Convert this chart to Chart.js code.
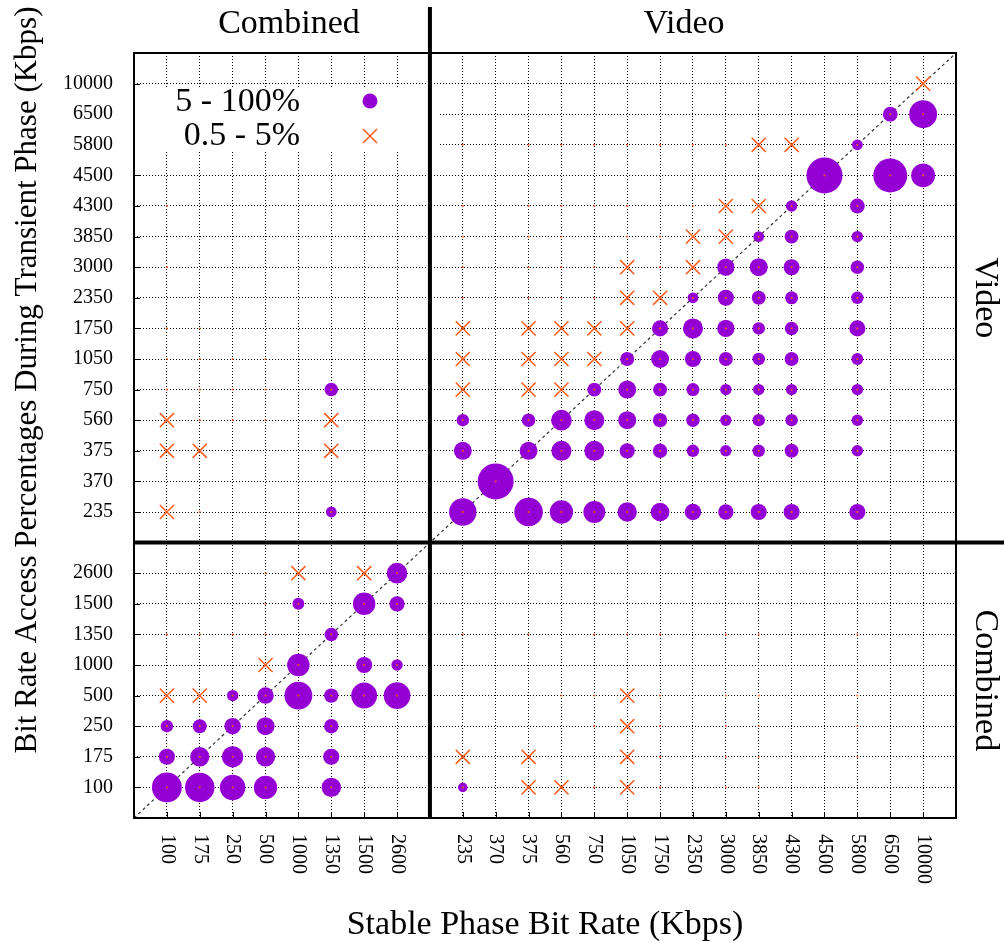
<!DOCTYPE html>
<html>
<head>
<meta charset="utf-8">
<script src="https://cdn.jsdelivr.net/npm/chart.js@4.4.0/dist/chart.umd.min.js"></script>
<style>
  html, body { margin: 0; padding: 0; background: #fff; }
  #wrap { width: 1004px; height: 943px; }
</style>
</head>
<body>
<div id="wrap"><canvas id="chart" width="1004" height="943"></canvas></div>
<script>
// Bit rate ladders (Kbps)
const combinedRates = [100, 175, 250, 500, 1000, 1350, 1500, 2600];
const videoRates = [235, 370, 375, 560, 750, 1050, 1750, 2350, 3000, 3850, 4300, 4500, 5800, 6500, 10000];

// [stable rate, transient rate, percent] with a share of 5 - 100%
const highShare = [
  // video / video
  [235, 235, 58], [375, 235, 63], [560, 235, 42], [750, 235, 37], [1050, 235, 29], [1750, 235, 27],
  [2350, 235, 21], [3000, 235, 18], [3850, 235, 20], [4300, 235, 20], [5800, 235, 20],
  [370, 370, 100],
  [235, 375, 25], [375, 375, 25], [560, 375, 31], [750, 375, 31], [1050, 375, 18], [1750, 375, 16],
  [2350, 375, 12], [3000, 375, 10], [3850, 375, 12], [4300, 375, 15], [5800, 375, 10],
  [235, 560, 12], [375, 560, 14], [560, 560, 33], [750, 560, 31], [1050, 560, 25], [1750, 560, 16],
  [2350, 560, 14], [3000, 560, 10], [3850, 560, 12], [4300, 560, 12], [5800, 560, 10],
  [750, 750, 15], [1050, 750, 25], [1750, 750, 15], [2350, 750, 13], [3000, 750, 10],
  [3850, 750, 10], [4300, 750, 10], [5800, 750, 10],
  [1050, 1050, 15], [1750, 1050, 25], [2350, 1050, 20], [3000, 1050, 15], [3850, 1050, 12],
  [4300, 1050, 15], [5800, 1050, 11],
  [1750, 1750, 20], [2350, 1750, 31], [3000, 1750, 23], [3850, 1750, 12], [4300, 1750, 14], [5800, 1750, 20],
  [2350, 2350, 9], [3000, 2350, 20], [3850, 2350, 15], [4300, 2350, 13], [5800, 2350, 12],
  [3000, 3000, 23], [3850, 3000, 25], [4300, 3000, 20], [5800, 3000, 14],
  [3850, 3850, 9], [4300, 3850, 15], [5800, 3850, 10],
  [4300, 4300, 10], [5800, 4300, 17],
  [4500, 4500, 100], [6500, 4500, 89], [10000, 4500, 44],
  [5800, 5800, 9],
  [6500, 6500, 17], [10000, 6500, 60],
  // combined / video
  [1350, 750, 14], [1350, 235, 9],
  // combined / combined
  [2600, 2600, 33],
  [1000, 1500, 11], [1500, 1500, 39], [2600, 1500, 18],
  [1350, 1350, 14],
  [1000, 1000, 39], [1500, 1000, 20], [2600, 1000, 10],
  [250, 500, 10], [500, 500, 21], [1000, 500, 60], [1350, 500, 16], [1500, 500, 52], [2600, 500, 55],
  [100, 250, 12], [175, 250, 15], [250, 250, 21], [500, 250, 25], [1350, 250, 16],
  [100, 175, 20], [175, 175, 29], [250, 175, 35], [500, 175, 29], [1350, 175, 20],
  [100, 100, 69], [175, 100, 67], [250, 100, 50], [500, 100, 42], [1350, 100, 29],
  // video / combined
  [235, 100, 7]
];

// [stable rate, transient rate] with a share of 0.5 - 5%
const midShare = [
  [10000, 10000], [3850, 5800], [4300, 5800], [3000, 4300], [3850, 4300], [2350, 3850], [3000, 3850],
  [1050, 3000], [2350, 3000], [1050, 2350], [1750, 2350],
  [235, 1750], [375, 1750], [560, 1750], [750, 1750], [1050, 1750],
  [235, 1050], [375, 1050], [560, 1050], [750, 1050],
  [235, 750], [375, 750], [560, 750],
  [100, 560], [1350, 560], [100, 375], [175, 375], [1350, 375], [100, 235],
  [1000, 2600], [1500, 2600], [500, 1000], [100, 500], [175, 500],
  [235, 175], [375, 175], [1050, 175], [375, 100], [560, 100], [1050, 100], [1050, 250], [1050, 500]
];

// [stable rate, transient rate] with a share below 0.5%
const lowShare = [
  [100, 4300], [100, 3000], [100, 1750], [175, 1750], [100, 1050], [175, 1050], [250, 1050], [500, 1050],
  [100, 750], [175, 750], [250, 750], [500, 750], [175, 560], [250, 560], [500, 560], [175, 235],
  [235, 5800], [375, 5800], [560, 5800], [750, 5800], [1050, 5800], [1750, 5800], [2350, 5800], [3000, 5800],
  [235, 4300], [375, 4300], [560, 4300], [750, 4300], [1050, 4300], [2350, 4300],
  [235, 3850], [375, 3850], [560, 3850], [1050, 3850], [1750, 3850],
  [235, 3000], [375, 3000], [560, 3000], [750, 3000], [1750, 3000],
  [235, 2350], [375, 2350], [560, 2350], [750, 2350],
  [500, 2600], [500, 1500], [100, 1350], [175, 1350], [250, 1350], [500, 1350],
  [235, 1350], [375, 1350], [750, 1350], [1050, 1350], [1750, 1350], [3000, 1350], [3850, 1350], [5800, 1350],
  [560, 500], [750, 500], [1750, 500], [3000, 500], [3850, 500], [5800, 500],
  [750, 250], [1750, 250], [3000, 250], [3850, 250], [5800, 250],
  [1750, 175], [3000, 175], [3850, 175], [5800, 175],
  [750, 100], [1750, 100], [3000, 100], [3850, 100]
];

// combined ladder, an empty slot, then the video ladder
const axisLabels = [...combinedRates, '', ...videoRates];
const splitAt = combinedRates.length;
const pos = rate => axisLabels.indexOf(rate);

const PURPLE = '#9400d3';
const ORANGE = '#ff5a1a';
const SERIF = "'Liberation Serif', 'Times New Roman', serif";

const shareRadius = pct => 1.8 * Math.sqrt(pct);
const isCategory = v => Number.isInteger(v) && v >= 0 && v < axisLabels.length && v !== splitAt;

const toPoint = ([sx, ty, pct]) => ({ x: pos(sx), y: pos(ty), pct });

const gridAxis = {
  type: 'linear',
  min: -1,
  max: axisLabels.length,
  ticks: { display: false, stepSize: 1, maxTicksLimit: 100 },
  grid: {
    drawTicks: false,
    lineWidth: 1,
    color: c => (c.tick && isCategory(c.tick.value)) ? '#000' : 'rgba(0,0,0,0)'
  },
  border: { display: false, dash: [1, 2] }
};

const decorations = {
  id: 'decorations',
  afterDatasetsDraw(chart) {
    const { ctx, chartArea: a, scales: { x, y } } = chart;
    ctx.save();

    // short inward tics on the left and bottom edges
    ctx.strokeStyle = '#000';
    ctx.lineWidth = 1;
    ctx.beginPath();
    axisLabels.forEach((lab, i) => {
      if (lab === '') return;
      const py = Math.round(y.getPixelForValue(i)) + 0.5;
      const px = Math.round(x.getPixelForValue(i)) + 0.5;
      ctx.moveTo(a.left, py); ctx.lineTo(a.left + 6, py);
      ctx.moveTo(px, a.bottom); ctx.lineTo(px, a.bottom - 6);
    });
    ctx.stroke();

    // key
    ctx.fillStyle = '#fff';
    ctx.fillRect(a.left + 1, 87, 303, 65);
    ctx.fillStyle = '#000';
    ctx.font = `34px ${SERIF}`;
    ctx.textAlign = 'right';
    ctx.textBaseline = 'middle';
    ctx.fillText('5 - 100%', 300, 102);
    ctx.fillText('0.5 - 5%', 300, 136);
    ctx.fillStyle = PURPLE;
    ctx.beginPath();
    ctx.arc(370, 101, 7.5, 0, Math.PI * 2);
    ctx.fill();
    ctx.strokeStyle = ORANGE;
    ctx.lineWidth = 1.5;
    ctx.beginPath();
    ctx.moveTo(363, 129); ctx.lineTo(377, 143);
    ctx.moveTo(377, 129); ctx.lineTo(363, 143);
    ctx.stroke();

    // tick labels
    ctx.fillStyle = '#000';
    ctx.font = `20px ${SERIF}`;
    axisLabels.forEach((lab, i) => {
      if (lab === '') return;
      ctx.textAlign = 'right';
      ctx.textBaseline = 'middle';
      ctx.fillText(String(lab), a.left - 21, y.getPixelForValue(i));
      ctx.save();
      ctx.translate(x.getPixelForValue(i), a.bottom + 16);
      ctx.rotate(Math.PI / 2);
      ctx.textAlign = 'left';
      ctx.fillText(String(lab), 0, 0);
      ctx.restore();
    });

    // plot frame and panel separators
    ctx.strokeStyle = '#000';
    ctx.lineWidth = 2;
    ctx.strokeRect(a.left, a.top, a.right - a.left, a.bottom - a.top);
    const sx = x.getPixelForValue(splitAt);
    const sy = y.getPixelForValue(splitAt);
    ctx.lineWidth = 4;
    ctx.beginPath();
    ctx.moveTo(sx, 7); ctx.lineTo(sx, a.bottom);
    ctx.moveTo(a.left, sy); ctx.lineTo(chart.width, sy);
    ctx.stroke();

    // panel names and axis titles
    ctx.font = `34px ${SERIF}`;
    ctx.textAlign = 'center';
    ctx.textBaseline = 'middle';
    ctx.fillText('Combined', 289, 24);
    ctx.fillText('Video', 684, 24);
    ctx.fillText('Stable Phase Bit Rate (Kbps)', (a.left + a.right) / 2, 925);
    const side = (text, cx, cy, ang) => {
      ctx.save();
      ctx.translate(cx, cy);
      ctx.rotate(ang);
      ctx.fillText(text, 0, 0);
      ctx.restore();
    };
    side('Video', 985, (a.top + sy) / 2, Math.PI / 2);
    side('Combined', 985, (sy + a.bottom) / 2, Math.PI / 2);
    ctx.font = `31px ${SERIF}`;
    side('Bit Rate Access Percentages During Transient Phase (Kbps)', 28, 380, -Math.PI / 2);

    ctx.restore();
  }
};

const allPositions = [...highShare, ...midShare, ...lowShare].map(toPoint);

new Chart(document.getElementById('chart'), {
  type: 'scatter',
  data: {
    datasets: [
      {
        label: 'center',
        data: allPositions,
        order: 0,
        pointStyle: 'rect',
        pointRadius: 1.2,
        backgroundColor: ORANGE,
        borderWidth: 0
      },
      {
        label: '0.5 - 5%',
        data: midShare.map(toPoint),
        order: 1,
        pointStyle: 'crossRot',
        pointRadius: 10,
        borderColor: ORANGE,
        borderWidth: 1.5
      },
      {
        label: '5 - 100%',
        data: highShare.map(toPoint),
        order: 2,
        pointStyle: 'circle',
        pointRadius: c => shareRadius(c.raw.pct),
        backgroundColor: PURPLE,
        borderWidth: 0
      },
      {
        label: 'diagonal',
        type: 'line',
        data: [{ x: -1, y: -1 }, { x: axisLabels.length, y: axisLabels.length }],
        order: 3,
        borderColor: '#333',
        borderWidth: 1.2,
        borderDash: [3, 3],
        pointRadius: 0
      }
    ]
  },
  options: {
    responsive: false,
    animation: false,
    events: [],
    layout: { padding: { left: 134, right: 48, top: 53, bottom: 125 } },
    plugins: { legend: { display: false }, tooltip: { enabled: false } },
    scales: {
      x: { ...gridAxis, afterFit: s => { s.height = 0; } },
      y: { ...gridAxis, afterFit: s => { s.width = 0; } }
    }
  },
  plugins: [decorations]
});
</script>
</body>
</html>
